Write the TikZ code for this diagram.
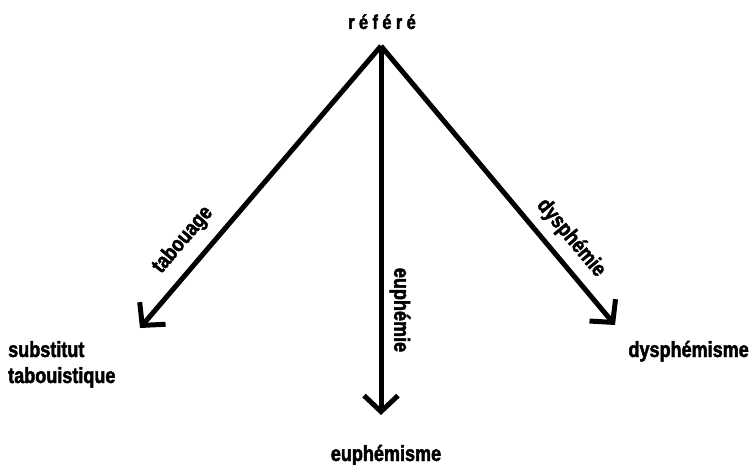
\documentclass[tikz,border=0pt]{standalone}
\usepackage{fontspec}
\usetikzlibrary{arrows.meta}
\newfontfamily\labfont{Liberation Sans}[FakeStretch=0.82,FakeBold=2]
\begin{document}
\begin{tikzpicture}[x=1pt,y=-1pt,
  lab/.style={font=\labfont\bfseries\fontsize{22}{26}\selectfont, inner sep=0pt},
  arr/.style={line width=5pt, -{Straight Barb[length=16pt,width=34pt]}}]
\useasboundingbox[fill=white] (0,0) rectangle (749,465);
\coordinate (apex) at (381,46);
\coordinate (lt) at (140,328);
\coordinate (mt) at (381,415);
\coordinate (rt) at (615,325);
\node[lab, anchor=base, font=\labfont\bfseries\fontsize{20}{24}\selectfont] (refere) at (382,29) {\addfontfeature{LetterSpace=22}référé};
\node[lab, anchor=base west] (subst) at (8,357) {substitut};
\node[lab, anchor=base west] (tabou) at (8,383) {tabouistique};
\node[lab, anchor=base] (euphm) at (386,461) {euphémisme};
\node[lab, anchor=base east] (dysphm) at (749,357) {dysphémisme};
\draw[arr] (apex) -- (lt);
\draw[arr] (apex) -- (mt);
\draw[arr] (apex) -- (rt);
\node[lab, rotate=49.5] (tab) at (183,240) {tabouage};
\node[lab, rotate=-90] (euph) at (400,310) {euphémie};
\node[lab, rotate=-50] (dysph) at (571,238) {dysphémie};
\end{tikzpicture}
\end{document}
